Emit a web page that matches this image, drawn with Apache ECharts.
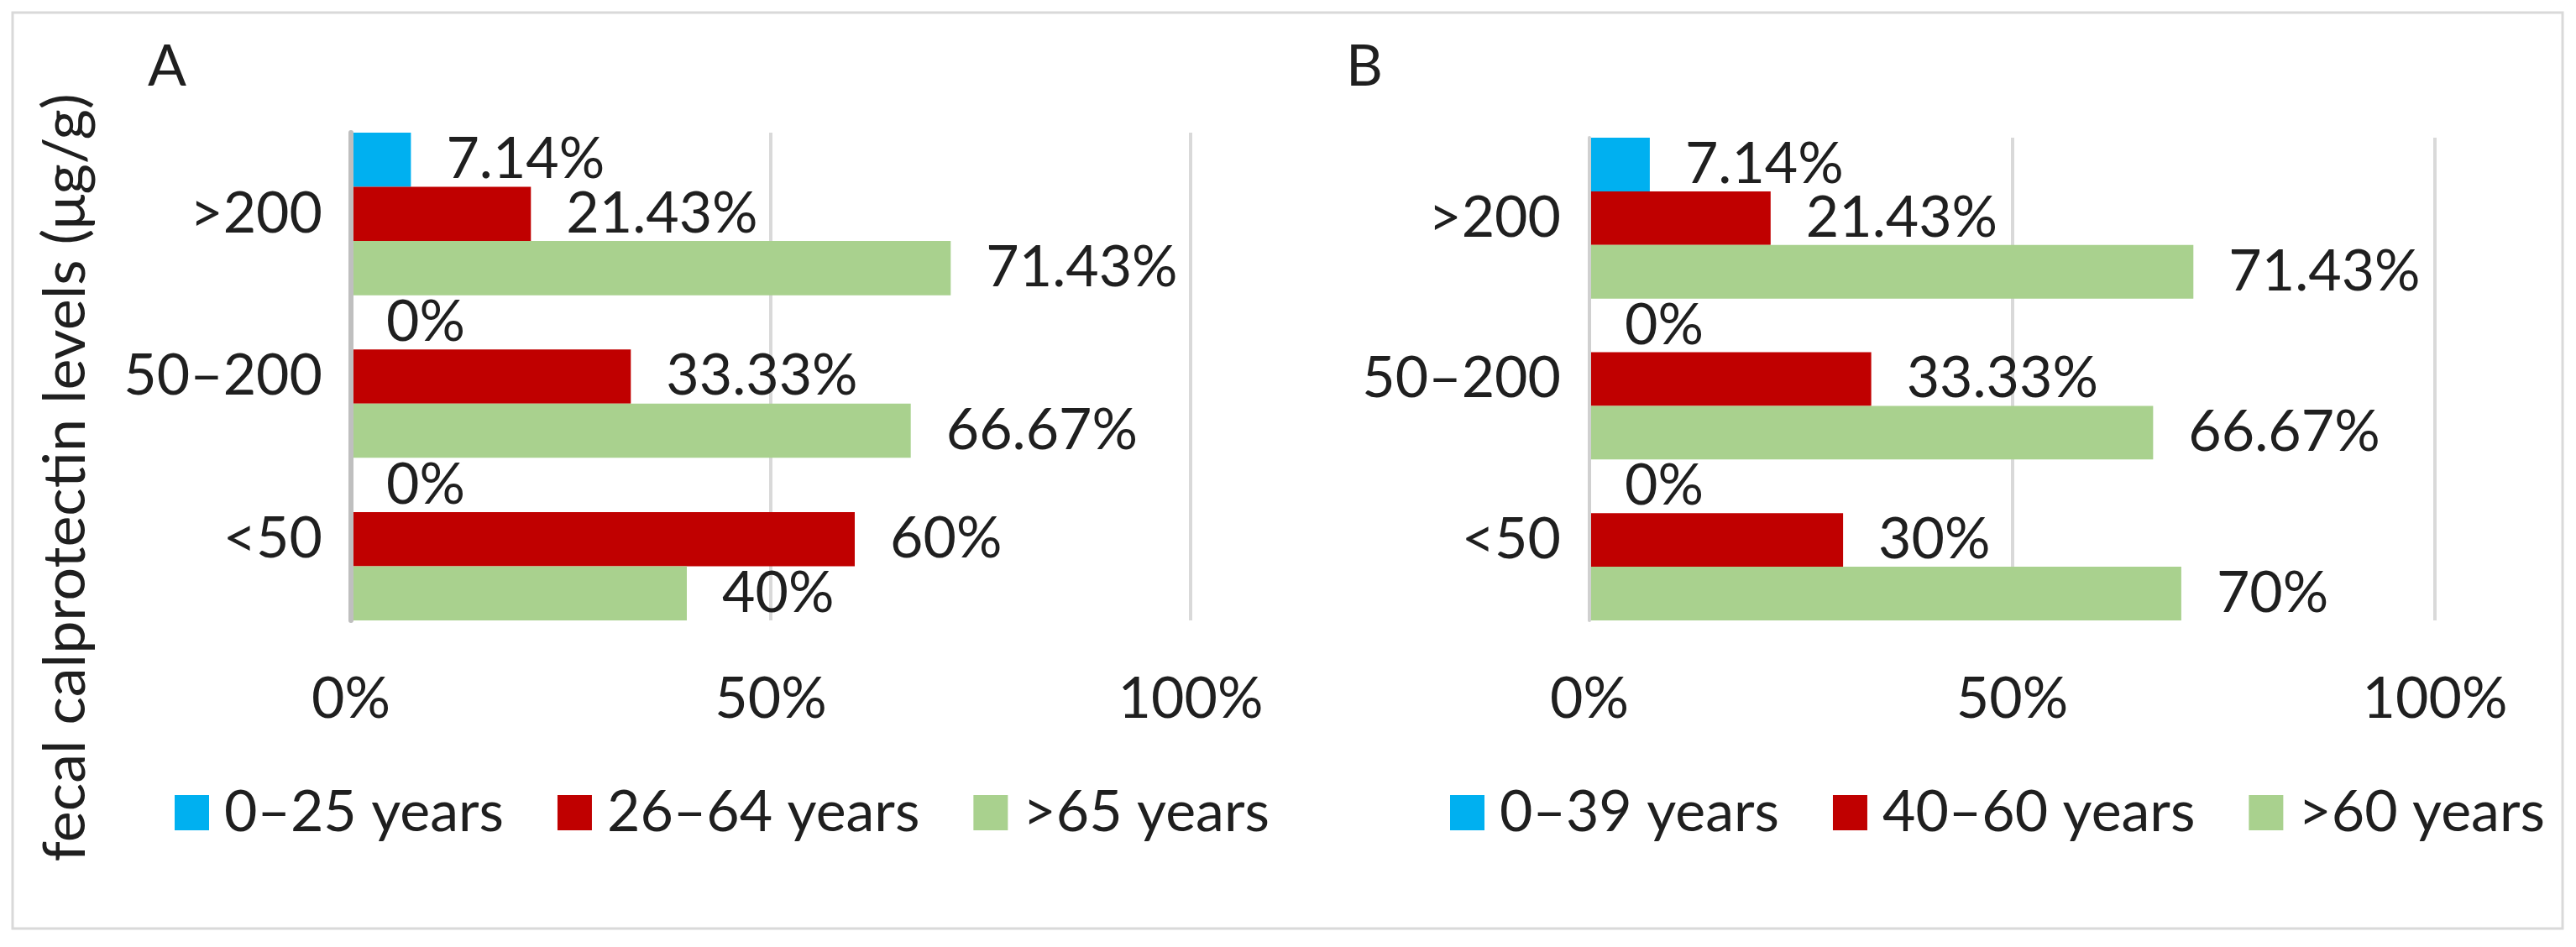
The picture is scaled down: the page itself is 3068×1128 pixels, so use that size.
<!DOCTYPE html>
<html><head><meta charset="utf-8">
<script src="https://cdn.jsdelivr.net/npm/echarts@6/dist/echarts.min.js"></script>
<style>html,body{margin:0;padding:0;background:#fff}#c{width:3068px;height:1128px}</style>
</head><body><div id="c"></div>
<script>
// ---- data ----
const categories = ['<50', '50–200', '>200'];
const xTickMin = 0, xTickMax = 100, xTickStep = 50;
const namesA = ['0–25 years', '26–64 years', '>65 years'];
const youngA = [0, 0, 7.14];
const midA = [60, 33.33, 21.43];
const oldA = [40, 66.67, 71.43];
const namesB = ['0–39 years', '40–60 years', '>60 years'];
const youngB = [0, 0, 7.14];
const midB = [30, 33.33, 21.43];
const oldB = [70, 66.67, 71.43];
const panelTitles = ['A', 'B'];
const yTitle = 'fecal calprotectin levels (μg/g)';

// ---- styles ----
const colors = ['#00B0F0', '#C00000', '#A9D18E'];
const FONT = 'Lato';
const FS = 68;
const TXT = '#1f1f1f';

const chart = echarts.init(document.getElementById('c'), null, {renderer: 'canvas'});

function xAxisCfg(gi) {
  return {
    type: 'value', gridIndex: gi, min: xTickMin, max: xTickMax, interval: xTickStep,
    axisLine: {show: false}, axisTick: {show: false},
    splitLine: {show: true, lineStyle: {color: '#d9d9d9', width: 4}},
    axisLabel: {formatter: '{value}%', fontFamily: FONT, fontSize: FS, color: TXT, margin: 60}
  };
}
function yAxisCfg(gi, lineColor, lineW) {
  return {
    type: 'category', gridIndex: gi, data: categories, z: 5,
    axisLine: {show: true, lineStyle: {color: lineColor, width: lineW}},
    axisTick: {show: false}, splitLine: {show: false},
    axisLabel: {fontFamily: FONT, fontSize: FS, color: TXT, margin: 34, padding: [20, 0, 0, 0]}
  };
}
function barSeries(name, data, ci, gi) {
  return {
    type: 'bar', name: name, data: data, xAxisIndex: gi, yAxisIndex: gi,
    barGap: '0%', barCategoryGap: '0%',
    itemStyle: {color: colors[ci]},
    label: {show: true, position: 'right', distance: 42, fontFamily: FONT, fontSize: FS, color: TXT,
      formatter: p => p.value + '%'}
  };
}
function legendCfg(names, left) {
  return {
    data: names, left: left, top: 930, orient: 'horizontal',
    icon: 'rect', itemWidth: 41, itemHeight: 42, itemGap: 64,
    itemStyle: {borderWidth: 0},
    textStyle: {fontFamily: FONT, fontSize: FS, color: TXT, padding: [0, 0, 0, 13], lineHeight: 76},
    padding: 0, selectedMode: false
  };
}

const option = {
  backgroundColor: '#fff',
  animation: false,
  grid: [
    {left: 418, top: 158, width: 1000, height: 581, outerBoundsMode: 'none', containLabel: false},
    {left: 1893, top: 164, width: 1007, height: 575, outerBoundsMode: 'none', containLabel: false}
  ],
  xAxis: [xAxisCfg(0), xAxisCfg(1)],
  yAxis: [yAxisCfg(0, '#bfbfbf', 6), yAxisCfg(1, '#d0d0d0', 4)],
  legend: [legendCfg(namesA, 208), legendCfg(namesB, 1727)],
  series: [
    barSeries(namesA[0], youngA, 0, 0),
    barSeries(namesA[1], midA, 1, 0),
    barSeries(namesA[2], oldA, 2, 0),
    barSeries(namesB[0], youngB, 0, 1),
    barSeries(namesB[1], midB, 1, 1),
    barSeries(namesB[2], oldB, 2, 1)
  ],
  graphic: [
    {type: 'rect', shape: {x: 15, y: 15, width: 3037, height: 1091}, silent: true,
      style: {fill: 'none', stroke: '#d9d9d9', lineWidth: 3}, z: -1},
    {type: 'text', x: 176, y: 80, style: {text: panelTitles[0], font: FS + 'px ' + FONT, fill: TXT, align: 'left', verticalAlign: 'middle'}},
    {type: 'text', x: 1603, y: 80, style: {text: panelTitles[1], font: FS + 'px ' + FONT, fill: TXT, align: 'left', verticalAlign: 'middle'}},
    {type: 'text', x: 78, y: 569, rotation: Math.PI / 2,
      style: {text: yTitle, font: '70px ' + FONT, fill: TXT, align: 'center', verticalAlign: 'middle'}}
  ]
};
chart.setOption(option);
</script>
</body></html>
